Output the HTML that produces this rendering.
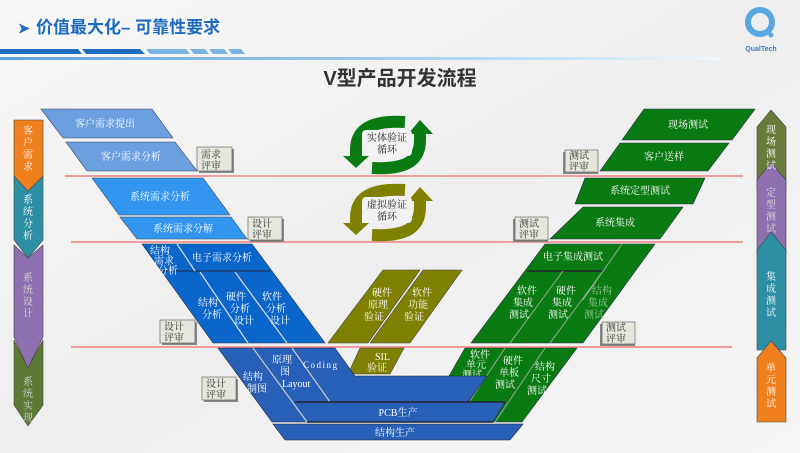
<!DOCTYPE html>
<html><head><meta charset="utf-8"><style>
html,body{margin:0;padding:0;}
body{width:800px;height:453px;overflow:hidden;background:#f3f3f3;}
svg{display:block;}
text{font-family:"Liberation Serif","Noto Serif CJK SC",serif;}
.w{fill:#fff;font-size:10px;}
.b{font-family:"Liberation Sans","Noto Sans CJK SC",sans-serif;}
</style></head><body>
<svg width="800" height="453" viewBox="0 0 800 453" xmlns="http://www.w3.org/2000/svg">
<defs>
<linearGradient id="bg" x1="0" y1="0" x2="1" y2="1"><stop offset="0" stop-color="#f8f8f8"/><stop offset="0.5" stop-color="#eeeeee"/><stop offset="1" stop-color="#f6f6f6"/></linearGradient>
<linearGradient id="ln" x1="0" x2="1"><stop offset="0" stop-color="#5aa0d8"/><stop offset="0.6" stop-color="#a8d4f0"/><stop offset="1" stop-color="#f0f6fa"/></linearGradient>
</defs>
<rect width="800" height="453" fill="url(#bg)"/>
<!-- header -->
<text x="18" y="33" class="b" font-size="14" fill="#1f6fc0" font-weight="bold">➤</text>
<text x="36" y="33" class="b" font-size="17" fill="#1d6bbf" font-weight="bold">价值最大化– 可靠性要求</text>
<polygon points="0,49 78,49 82,54 0,54" fill="#1d6bbf"/>
<polygon points="82,49 140,49 145,54 86,54" fill="#1d6bbf"/>
<polygon points="146,49 186,49 190,54 150,54" fill="#7ab3e0"/>
<polygon points="190,49 205,49 209,54 194,54" fill="#7ab3e0"/>
<polygon points="209,49 224,49 228,54 213,54" fill="#7ab3e0"/>
<polygon points="228,49 241,49 245,54 232,54" fill="#7ab3e0"/>
<rect x="0" y="57" width="720" height="3" fill="url(#ln)"/>
<text x="400" y="85" text-anchor="middle" class="b" font-size="20" font-weight="bold" fill="#333">V型产品开发流程</text>
<!-- logo -->
<circle cx="760" cy="22" r="12" fill="none" stroke="#5aa6e0" stroke-width="6"/>
<circle cx="771" cy="35" r="2.5" fill="#5aa6e0"/>
<text x="761" y="51" text-anchor="middle" class="b" font-size="7" font-weight="bold" fill="#3a7cc0">QualTech</text>

<!-- red lines -->
<line x1="65" y1="176" x2="743" y2="176" stroke="#f08080" stroke-width="1.5"/>
<line x1="71" y1="242" x2="743" y2="242" stroke="#f08080" stroke-width="1.5"/>
<line x1="71" y1="347" x2="732" y2="347" stroke="#f08080" stroke-width="1.5"/>

<!-- left sidebar -->
<polygon points="14,340 28,368 43,340 43,405 28,426 14,405" fill="#5c7a34" stroke="#444" stroke-width="0.6"/>
<polygon points="14,245 28,258 43,245 43,337 28,368 14,337" fill="#8e6fb0" stroke="#444" stroke-width="0.6"/>
<polygon points="14,176 43,176 43,240 28,258 14,240" fill="#2e8fa4" stroke="#444" stroke-width="0.6"/>
<polygon points="14,120 43,120 43,176 28,191 14,176" fill="#f0801e" stroke="#444" stroke-width="0.6"/>
<g class="w" font-size="11" text-anchor="middle">
<text x="28" y="134">客</text><text x="28" y="146">户</text><text x="28" y="158">需</text><text x="28" y="170">求</text>
<text x="28" y="203">系</text><text x="28" y="215">统</text><text x="28" y="227">分</text><text x="28" y="239">析</text>
<text x="28" y="281" fill="#ddd">系</text><text x="28" y="293" fill="#ddd">统</text><text x="28" y="305" fill="#ddd">设</text><text x="28" y="317" fill="#ddd">计</text>
<text x="28" y="385" fill="#cdd">系</text><text x="28" y="397" fill="#cdd">统</text><text x="28" y="409" fill="#cdd">实</text><text x="28" y="421" fill="#cdd">现</text>
</g>

<!-- right sidebar -->
<polygon points="757,127 771,110 786,127 786,190 757,190" fill="#6a7a3a" stroke="#444" stroke-width="0.6"/>
<polygon points="757,180 771,163 786,180 786,255 757,255" fill="#8e6fb0" stroke="#444" stroke-width="0.6"/>
<polygon points="757,250 771,232 786,250 786,350 757,350" fill="#2e8fa4" stroke="#444" stroke-width="0.6"/>
<polygon points="757,358 771,341 786,358 786,422 757,422" fill="#f0801e" stroke="#444" stroke-width="0.6"/>
<g class="w" font-size="11" text-anchor="middle">
<text x="771" y="133">现</text><text x="771" y="145">场</text><text x="771" y="157">测</text><text x="771" y="169">试</text>
<text x="771" y="196" fill="#ddd">定</text><text x="771" y="208" fill="#ddd">型</text><text x="771" y="220" fill="#ddd">测</text><text x="771" y="232" fill="#ddd">试</text>
<text x="771" y="280">集</text><text x="771" y="292">成</text><text x="771" y="304">测</text><text x="771" y="316">试</text>
<text x="771" y="371">单</text><text x="771" y="383">元</text><text x="771" y="395">测</text><text x="771" y="407">试</text>
</g>

<!-- left upper blues -->
<polygon points="41,109 152,109 173,138 63,138" fill="#6b9fe0" stroke="#345" stroke-width="0.6"/>
<text x="105" y="127" class="w" text-anchor="middle" fill="#e6eefa">客户需求提出</text>
<polygon points="66,142 175,142 197,171 87,171" fill="#6b9fe0" stroke="#345" stroke-width="0.6"/>
<text x="131" y="160" class="w" text-anchor="middle" fill="#e6eefa">客户需求分析</text>
<polygon points="92,178 203,178 230,215 119,215" fill="#3296f0" stroke="#345" stroke-width="0.6"/>
<text x="160" y="200" class="w" text-anchor="middle">系统需求分析</text>
<polygon points="120,217 231,217 247,239 137,239" fill="#3296f0" stroke="#345" stroke-width="0.6"/>
<text x="183" y="232" class="w" text-anchor="middle">系统需求分解</text>

<!-- left middle block -->
<polygon points="142,244 252,244 325,343 213,343" fill="#0b66cc" stroke="#234" stroke-width="0.6"/>
<line x1="162" y1="271" x2="270" y2="271" stroke="#1a3f70" stroke-width="1.5"/>
<line x1="177" y1="244" x2="195" y2="271" stroke="#ddd" stroke-width="1.2"/>
<line x1="200" y1="272" x2="248" y2="343" stroke="#ddd" stroke-width="1.2"/>
<line x1="235" y1="272" x2="287" y2="343" stroke="#ddd" stroke-width="1.2"/>
<text x="222" y="261" class="w" text-anchor="middle">电子需求分析</text>
<g class="w" font-size="10" fill="#cfe0f5">
<text x="150" y="254">结构</text><text x="154" y="264">需求</text><text x="158" y="274">分析</text>
<text x="198" y="306">结构</text><text x="202" y="318">分析</text>
<text x="226" y="300">硬件</text><text x="230" y="312">分析</text><text x="234" y="324">设计</text>
<text x="262" y="300">软件</text><text x="266" y="312">分析</text><text x="270" y="324">设计</text>
</g>

<!-- olive -->
<polygon points="383,270 420,270 368,343 328,343" fill="#7f7f00" stroke="#444" stroke-width="0.6"/>
<polygon points="423,270 462,270 410,343 370,343" fill="#7f7f00" stroke="#444" stroke-width="0.6"/>
<polygon points="360,348 404,348 390,374 348,374" fill="#7f7f00" stroke="#444" stroke-width="0.6"/>
<g class="w" font-size="10" fill="#eee">
<text x="372" y="296">硬件</text><text x="368" y="308">原理</text><text x="364" y="320">验证</text>
<text x="412" y="296">软件</text><text x="408" y="308">功能</text><text x="404" y="320">验证</text>
<text x="375" y="360">SIL</text><text x="367" y="371">验证</text>
</g>

<!-- green right -->
<polygon points="644,109 755,109 732,140 622,140" fill="#0a7a12" stroke="#234" stroke-width="0.6"/>
<text x="688" y="128" class="w" text-anchor="middle">现场测试</text>
<polygon points="620,143 729,143 708,171 600,171" fill="#0a7a12" stroke="#234" stroke-width="0.6"/>
<text x="664" y="160" class="w" text-anchor="middle">客户送样</text>
<polygon points="585,178 705,178 693,204 575,204" fill="#0a7a12" stroke="#234" stroke-width="0.6"/>
<text x="640" y="194" class="w" text-anchor="middle">系统定型测试</text>
<polygon points="583,207 683,207 660,239 550,239" fill="#0a7a12" stroke="#234" stroke-width="0.6"/>
<text x="615" y="226" class="w" text-anchor="middle">系统集成</text>
<polygon points="545,244 655,244 583,343 471,343" fill="#0a7a12" stroke="#234" stroke-width="0.6"/>
<line x1="527" y1="271" x2="603" y2="271" stroke="#223" stroke-width="1.5"/>
<line x1="622" y1="244" x2="583" y2="300" stroke="#9a9" stroke-width="1"/>
<line x1="563" y1="271" x2="510" y2="343" stroke="#9a9" stroke-width="1"/>
<line x1="603" y1="271" x2="550" y2="343" stroke="#9a9" stroke-width="1"/>
<text x="573" y="260" class="w" text-anchor="middle">电子集成测试</text>
<g class="w" font-size="10" fill="#dfd">
<text x="517" y="294">软件</text><text x="513" y="306">集成</text><text x="509" y="318">测试</text>
<text x="556" y="294">硬件</text><text x="552" y="306">集成</text><text x="548" y="318">测试</text>
<text x="592" y="294" fill="#9c9">结构</text><text x="588" y="306" fill="#9c9">集成</text><text x="584" y="318" fill="#9c9">测试</text>
</g>
<!-- green lower -->
<polygon points="465,348 577,348 522,422 470,422 449,376" fill="#0a7a12" stroke="#234" stroke-width="0.6"/>
<line x1="505" y1="348" x2="470" y2="401" stroke="#9a9" stroke-width="1"/>
<line x1="545" y1="348" x2="495" y2="422" stroke="#9a9" stroke-width="1"/>
<g class="w" font-size="10" fill="#9c9">
<text x="470" y="358">软件</text><text x="466" y="368">单元</text><text x="462" y="378">测试</text>
<text x="503" y="364">硬件</text><text x="499" y="376">单板</text><text x="495" y="388">测试</text>
<text x="535" y="370">结构</text><text x="531" y="382">尺寸</text><text x="527" y="394">测试</text>
</g>

<!-- bottom blue -->
<polygon points="218,348 335,348 355,376 487,376 468,402 505,402 493,422 272,422" fill="#2860b8" stroke="#223" stroke-width="0.6"/>
<line x1="253" y1="348" x2="307" y2="422" stroke="#ccc" stroke-width="1.2"/>
<line x1="292" y1="348" x2="330" y2="402" stroke="#ccc" stroke-width="1.2"/>
<line x1="295" y1="402" x2="505" y2="402" stroke="#223" stroke-width="1.5"/>
<line x1="307" y1="422" x2="493" y2="422" stroke="#223" stroke-width="1.5"/>
<text x="398" y="416" class="w" text-anchor="middle">PCB生产</text>
<polygon points="273,424 523,424 510,440 285,440" fill="#2860b8" stroke="#223" stroke-width="0.6"/>
<text x="395" y="436" class="w" text-anchor="middle">结构生产</text>
<g class="w" font-size="10" fill="#cdd8ee">
<text x="243" y="380">结构</text><text x="247" y="392">制图</text>
<text x="272" y="363">原理</text><text x="280" y="375">图</text><text x="282" y="387">Layout</text>
<text x="303" y="368" font-size="9" letter-spacing="1.5">Coding</text>
</g>

<!-- review boxes -->
<g font-size="10" fill="#333">
<rect x="199" y="149" width="35" height="24" fill="#888"/><rect x="197" y="147" width="35" height="24" fill="#e4e8dc" stroke="#555" stroke-width="0.6"/>
<text x="201" y="158">需求</text><text x="201" y="169">评审</text>
<rect x="250" y="219" width="34" height="23" fill="#888"/><rect x="248" y="217" width="34" height="23" fill="#e4e8dc" stroke="#555" stroke-width="0.6"/>
<text x="252" y="227">设计</text><text x="252" y="238">评审</text>
<rect x="162" y="322" width="35" height="23" fill="#888"/><rect x="160" y="320" width="35" height="23" fill="#e4e8dc" stroke="#555" stroke-width="0.6"/>
<text x="164" y="330">设计</text><text x="164" y="341">评审</text>
<rect x="204" y="379" width="34" height="23" fill="#888"/><rect x="202" y="377" width="34" height="23" fill="#e4e8dc" stroke="#555" stroke-width="0.6"/>
<text x="206" y="387">设计</text><text x="206" y="398">评审</text>
<rect x="563" y="152" width="35" height="22" fill="#888"/><rect x="565" y="150" width="33" height="22" fill="#e4e8dc" stroke="#555" stroke-width="0.6"/>
<text x="569" y="159">测试</text><text x="569" y="170">评审</text>
<rect x="513" y="219" width="35" height="23" fill="#888"/><rect x="515" y="217" width="33" height="23" fill="#e4e8dc" stroke="#555" stroke-width="0.6"/>
<text x="519" y="227">测试</text><text x="519" y="238">评审</text>
<rect x="600" y="324" width="35" height="22" fill="#888"/><rect x="602" y="322" width="33" height="22" fill="#e4e8dc" stroke="#555" stroke-width="0.6"/>
<text x="606" y="331">测试</text><text x="606" y="342">评审</text>
</g>

<!-- cycle arrows -->
<g>
<path d="M405,122 C370,120 356,130 356,150 L356,158" fill="none" stroke="#0a7a12" stroke-width="12"/>
<polygon points="343,156 369,156 356,168" fill="#0a7a12"/>
<path d="M372,168 C410,170 420,158 420,140 L420,132" fill="none" stroke="#0a7a12" stroke-width="12"/>
<polygon points="408,134 433,134 420,120" fill="#0a7a12"/>
<rect x="362" y="130" width="50" height="26" rx="4" fill="#f2f2f2"/>
<text x="387" y="141" text-anchor="middle" font-size="10" fill="#222">实体验证</text>
<text x="387" y="153" text-anchor="middle" font-size="10" fill="#222">循环</text>

<path d="M405,190 C370,188 356,198 356,218 L356,225" fill="none" stroke="#7f7f00" stroke-width="12"/>
<polygon points="343,223 369,223 356,235" fill="#7f7f00"/>
<path d="M372,235 C410,237 420,225 420,207 L420,199" fill="none" stroke="#7f7f00" stroke-width="12"/>
<polygon points="408,201 433,201 420,187" fill="#7f7f00"/>
<rect x="362" y="197" width="50" height="26" rx="4" fill="#f2f2f2"/>
<text x="387" y="208" text-anchor="middle" font-size="10" fill="#222">虚拟验证</text>
<text x="387" y="220" text-anchor="middle" font-size="10" fill="#222">循环</text>
</g>
</svg>
</body></html>
